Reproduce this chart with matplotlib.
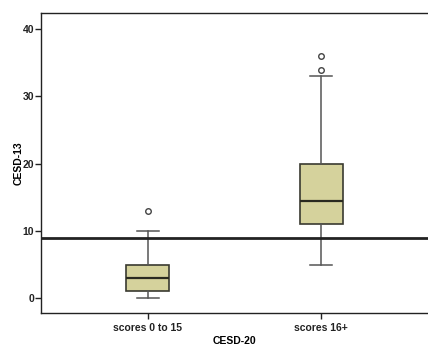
import matplotlib.pyplot as plt

plt.rcParams['font.family'] = ['Liberation Sans', 'DejaVu Sans']

groups = ['scores 0 to 15', 'scores 16+']
q1 = [1, 11]
medians = [3, 14.5]
q3 = [5, 20]
whislo = [0, 5]
whishi = [10, 33]
outliers = [[13], [34, 36]]
cutoff = 9

stats = []
for i, name in enumerate(groups):
    stats.append({'label': name, 'q1': q1[i], 'med': medians[i], 'q3': q3[i],
                  'whislo': whislo[i], 'whishi': whishi[i], 'fliers': outliers[i]})

fig = plt.figure(figsize=(4.28, 3.46), dpi=100)
ax = fig.add_axes([41 / 428, 1 - 313 / 346, 1 - 41 / 428, 300 / 346])

ax.bxp(stats, positions=[1, 2], widths=0.25, patch_artist=True,
       boxprops=dict(facecolor='#d5d29c', edgecolor='#3a3a30', linewidth=1.2),
       medianprops=dict(color='#2a2a20', linewidth=1.6),
       whiskerprops=dict(color='#555555', linewidth=1.1),
       capprops=dict(color='#555555', linewidth=1.1),
       flierprops=dict(marker='o', markersize=4, markerfacecolor='white',
                       markeredgecolor='#444444', markeredgewidth=1.0))

ax.axhline(cutoff, color='#222222', linewidth=2.0, zorder=5)

ax.set_xlim(0.385, 2.615)
ax.set_ylim(-2.2, 42.4)
ax.set_yticks([0, 10, 20, 30, 40])
ax.set_xticks([1, 2])
ax.set_xticklabels(groups)
ax.spines['right'].set_visible(False)
for s in ['left', 'top', 'bottom']:
    ax.spines[s].set_linewidth(1.0)
    ax.spines[s].set_color('#222222')
ax.tick_params(axis='both', direction='out', length=4, width=1.0,
               labelsize=7.5, colors='#222222')
ax.tick_params(axis='y', pad=1)
for lbl in ax.get_xticklabels() + ax.get_yticklabels():
    lbl.set_fontweight('bold')
ax.set_xlabel('CESD-20', fontsize=7.5, fontweight='bold', labelpad=2)
ax.set_ylabel('CESD-13', fontsize=7.5, fontweight='bold', labelpad=-1)

fig.savefig('out.png', dpi=100)
